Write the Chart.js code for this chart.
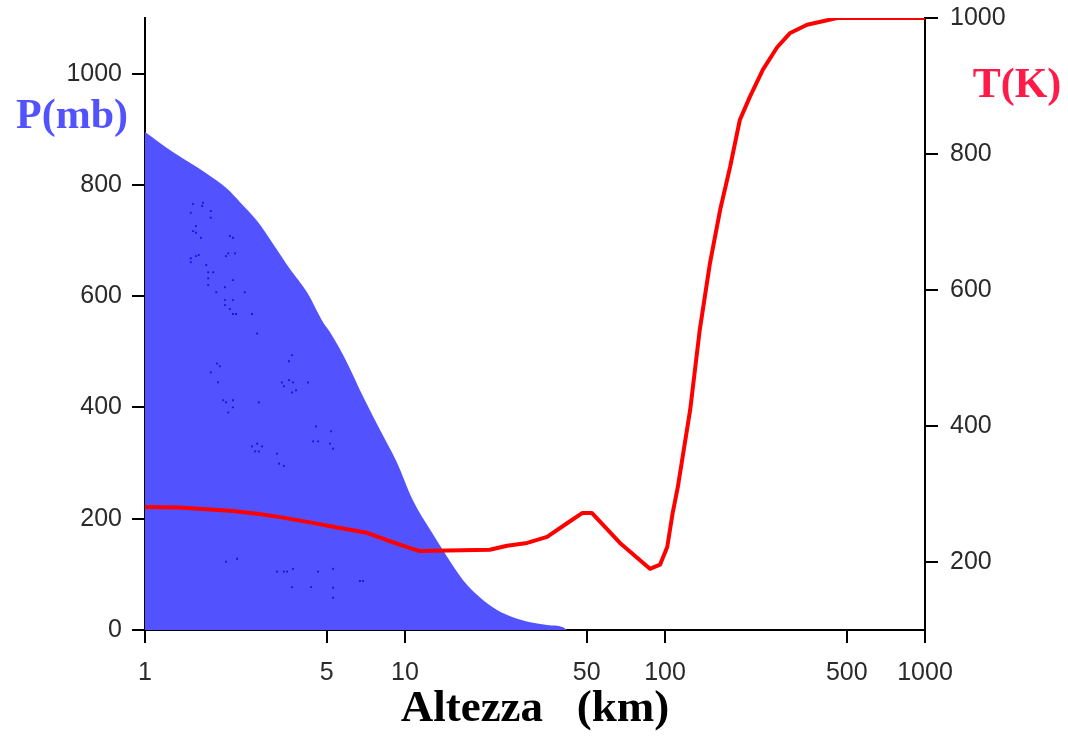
<!DOCTYPE html>
<html>
<head>
<meta charset="utf-8">
<title>Pressione e temperatura in funzione dell'altezza</title>
<script src="https://cdn.jsdelivr.net/npm/chart.js@4.4.1/dist/chart.umd.min.js"></script>
<style>
  body { margin: 0; background: #fff; }
  #wrap { width: 1068px; height: 736px; }
</style>
</head>
<body>
<div id="wrap"><canvas id="grafico" width="1068" height="736"></canvas></div>
<script>
// Pressione (mb), in funzione dell'altezza (km)
const altPressione = [1, 1.28, 1.73, 2.07, 2.32, 2.7, 3.11, 3.61, 4.2, 4.84, 5.15, 5.98, 6.89, 8.01, 9.31, 10.7, 12.5, 14.5, 16.7, 19.4, 22.6, 26, 30.3, 35.2, 40.5, 42];
const pressione = [895, 859, 820, 793, 769, 735, 694, 649, 607, 553, 535, 481, 420, 360, 301, 234, 180, 132, 90, 59, 36, 23, 14, 9, 5, 0];

// Temperatura (K) in funzione dell'altezza (km)
const altTemperatura = [1, 1.36, 2.18, 2.7, 3.31, 4.2, 5.62, 7.14, 8.53, 10.2, 11.4, 21.2, 24.7, 29.5, 35.2, 42, 48, 52.4, 67.1, 87.5, 95.7, 102, 107, 112, 125, 136, 149, 163, 178, 194, 212, 238, 270, 303, 352, 459, 1000];
const temperatura = [281, 280, 275, 271, 266, 259, 250, 243, 232, 222, 216, 218, 224, 228, 237, 257, 272, 272, 228, 190, 196, 222, 272, 310, 424, 541, 640, 718, 781, 850, 884, 924, 957, 978, 990, 1000, 1000];

// puntini blu scuri dentro l'area della pressione (altezza km, pressione mb)
const altPuntini = [1.53, 1.66, 1.67, 1.5, 1.79, 1.79, 1.57, 1.53, 1.57, 1.64, 2.12, 2.18, 1.5, 1.5, 1.57, 1.61, 1.72, 1.75, 1.83, 1.75, 1.75, 2.05, 2.09, 2.22, 2.18, 2.03, 1.88, 2.42, 2.03, 2.18, 2.03, 2.12, 2.18, 2.24, 2.58, 2.7, 3.68, 3.58, 1.89, 1.94, 1.79, 1.91, 3.36, 3.42, 3.58, 3.71, 4.24, 3.68, 3.81, 2, 2.05, 2.18, 2.18, 2.09, 2.74, 4.55, 5.19, 4.43, 4.63, 5.15, 5.29, 2.58, 2.7, 2.82, 2.65, 2.74, 3.22, 3.28, 3.42, 2.05, 2.26, 3.22, 3.42, 3.52, 3.71, 4.63, 5.29, 3.68, 4.35, 5.29, 5.29, 6.71, 6.9];
const pressPuntini = [766, 762, 768, 750, 753, 741, 726, 717, 714, 705, 708, 705, 668, 661, 672, 674, 656, 643, 643, 632, 620, 672, 677, 677, 629, 616, 607, 607, 593, 593, 584, 577, 568, 568, 568, 533, 494, 483, 479, 474, 463, 445, 445, 438, 449, 445, 445, 427, 431, 413, 409, 413, 400, 391, 409, 366, 357, 339, 339, 335, 326, 330, 335, 330, 321, 321, 317, 299, 295, 123, 128, 105, 105, 105, 110, 105, 110, 77, 77, 76, 58, 88, 88];

// etichette degli assi
const tickAltezza = [1, 5, 10, 50, 100, 500, 1000];
const tickPressione = [0, 200, 400, 600, 800, 1000];
const tickTemperatura = [200, 400, 600, 800, 1000];

const fontTick = { family: "'Liberation Sans', Arial, sans-serif", size: 25 };
const coloreTick = "#2a2a2a";

// Scritte P(mb) e T(K) accanto agli assi verticali
const etichetteAssi = {
    id: "etichetteAssi",
    afterDraw(chart) {
        const ctx = chart.ctx;
        const area = chart.chartArea;
        ctx.save();
        ctx.font = "bold 42px 'Liberation Serif', 'DejaVu Serif', serif";
        ctx.textAlign = "center";
        ctx.textBaseline = "alphabetic";
        ctx.fillStyle = "#5252ff";
        ctx.fillText("P(mb)", area.left - 73, area.top + 110);
        ctx.fillStyle = "#ff1a48";
        ctx.fillText("T(K)", area.right + 92, area.top + 79);
        ctx.restore();
    },
};

// gli assi verticali non devono spingere in basso l'area del grafico
function senzaPaddingVerticale(scale, larghezza) {
    scale.width = larghezza;
    scale.paddingTop = 0;
    scale.paddingBottom = 0;
}

const ctx = document.getElementById("grafico").getContext("2d");
const grafico = new Chart(ctx, {
    type: "line",
    data: {
        datasets: [
            {
                label: "Temperatura",
                data: altTemperatura.map((x, i) => ({ x: x, y: temperatura[i] })),
                yAxisID: "yT",
                borderColor: "#ff0000",
                borderWidth: 4,
                borderJoinStyle: "round",
                pointRadius: 0,
                fill: false,
                tension: 0,
            },
            {
                label: "Puntini",
                data: altPuntini.map((x, i) => ({ x: x, y: pressPuntini[i] })),
                yAxisID: "yP",
                showLine: false,
                pointStyle: "rect",
                pointRadius: 1.3,
                pointBorderWidth: 0,
                pointBackgroundColor: "#1010ee",
            },
            {
                label: "Pressione",
                data: altPressione.map((x, i) => ({ x: x, y: pressione[i] })),
                yAxisID: "yP",
                borderWidth: 0,
                borderColor: "rgba(0,0,0,0)",
                backgroundColor: "#5252ff",
                pointRadius: 0,
                fill: "origin",
                cubicInterpolationMode: "monotone",
            },
        ],
    },
    options: {
        responsive: false,
        animation: false,
        layout: { padding: { top: 18, left: 0, right: 0, bottom: 0 } },
        plugins: {
            legend: { display: false },
            tooltip: { enabled: false },
        },
        scales: {
            x: {
                type: "logarithmic",
                min: 1,
                max: 1000,
                afterBuildTicks: (scale) => {
                    scale.ticks = tickAltezza.map((v) => ({ value: v }));
                },
                afterFit: (scale) => { scale.height = 106; },
                border: { color: "#000", width: 2 },
                grid: { drawOnChartArea: false, tickLength: 13, color: "#000", lineWidth: 2 },
                ticks: {
                    color: coloreTick,
                    font: fontTick,
                    padding: 15,
                    maxRotation: 0,
                    autoSkip: false,
                    callback: (v) => String(v),
                },
                title: {
                    display: true,
                    text: "Altezza   (km)",
                    color: "#000",
                    font: { family: "'Liberation Serif', 'DejaVu Serif', serif", size: 45, weight: "bold", lineHeight: 1.2 },
                    padding: { top: 0, bottom: 0 },
                },
            },
            yP: {
                position: "left",
                min: 0,
                max: 1100,
                afterBuildTicks: (scale) => {
                    scale.ticks = tickPressione.map((v) => ({ value: v }));
                },
                afterFit: (scale) => senzaPaddingVerticale(scale, 145),
                border: { color: "#000", width: 2 },
                grid: { drawOnChartArea: false, tickLength: 13, color: "#000", lineWidth: 2 },
                ticks: { color: coloreTick, font: fontTick, padding: 10, callback: (v) => String(v) },
            },
            yT: {
                position: "right",
                min: 100,
                max: 1000,
                afterBuildTicks: (scale) => {
                    scale.ticks = tickTemperatura.map((v) => ({ value: v }));
                },
                afterFit: (scale) => senzaPaddingVerticale(scale, 143),
                border: { color: "#000", width: 2 },
                grid: { drawOnChartArea: false, tickLength: 13, color: "#000", lineWidth: 2 },
                ticks: { color: coloreTick, font: fontTick, padding: 12, callback: (v) => String(v) },
            },
        },
    },
    plugins: [etichetteAssi],
});
</script>
</body>
</html>
